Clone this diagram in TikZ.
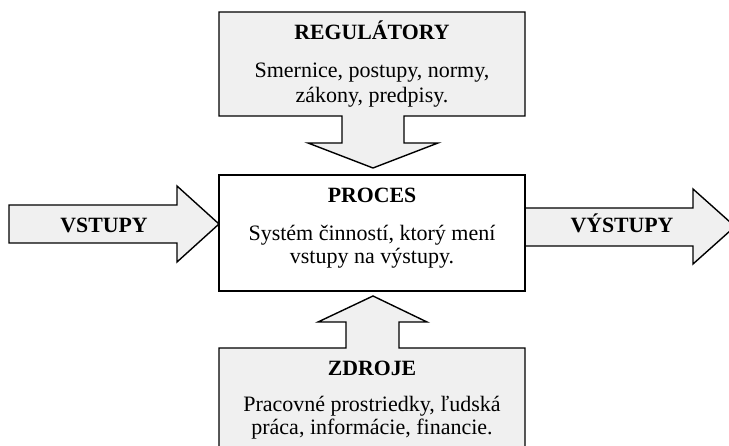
\documentclass[tikz,border=0pt]{standalone}
\usepackage{fontspec}
\setmainfont{Liberation Serif}
\definecolor{boxfill}{HTML}{F0F0F0}
\begin{document}
\begin{tikzpicture}[x=1pt,y=-1pt,
  blockshape/.style={draw=black,line width=1.4pt,fill=boxfill,line join=miter},
  title/.style={anchor=base,font=\fontsize{21.8}{26}\selectfont\bfseries,inner sep=0pt},
  body/.style={anchor=base,font=\fontsize{22}{26}\selectfont,inner sep=0pt}]
\useasboundingbox (0,0) rectangle (729,446);
\clip (0,0) rectangle (729,446);
% regulators box with down arrow
\draw[blockshape] (219,12) -- (525,12) -- (525,116) -- (404,116) -- (404,143) -- (438,143)
  -- (373,168) -- (308,143) -- (342,143) -- (342,116) -- (219,116) -- cycle;
% resources box with up arrow
\draw[blockshape] (219,470) -- (219,348) -- (346,348) -- (346,322) -- (318,322) -- (373,296)
  -- (427,322) -- (399,322) -- (399,348) -- (525,348) -- (525,470) -- cycle;
% inputs arrow
\draw[blockshape] (9,205) -- (177,205) -- (177,186) -- (219,224) -- (177,262) -- (177,243) -- (9,243) -- cycle;
% outputs arrow
\draw[blockshape] (525,208) -- (693,208) -- (693,189) -- (735,226.5) -- (693,264) -- (693,246) -- (525,246) -- cycle;
% process box
\draw[line width=1.4pt,fill=white] (219,175) rectangle (525,291);
% texts
\node[title] (regt) at (372,40) {REGULÁTORY};
\node[body] (reg1) at (372,78) {Smernice, postupy, normy,};
\node[body] (reg2) at (372,103) {zákony, predpisy.};
\node[title] (proct) at (372,203) {PROCES};
\node[body] (proc1) at (372,241) {Systém činností, ktorý mení};
\node[body] (proc2) at (372,264) {vstupy na výstupy.};
\node[title] (zdrt) at (372,376) {ZDROJE};
\node[body] (zdr1) at (372,412) {Pracovné prostriedky, ľudská};
\node[body] (zdr2) at (372,435) {práca, informácie, financie.};
\node[title] (vst) at (104,233) {VSTUPY};
\node[title] (vyst) at (622,233) {VÝSTUPY};
\end{tikzpicture}
\end{document}
